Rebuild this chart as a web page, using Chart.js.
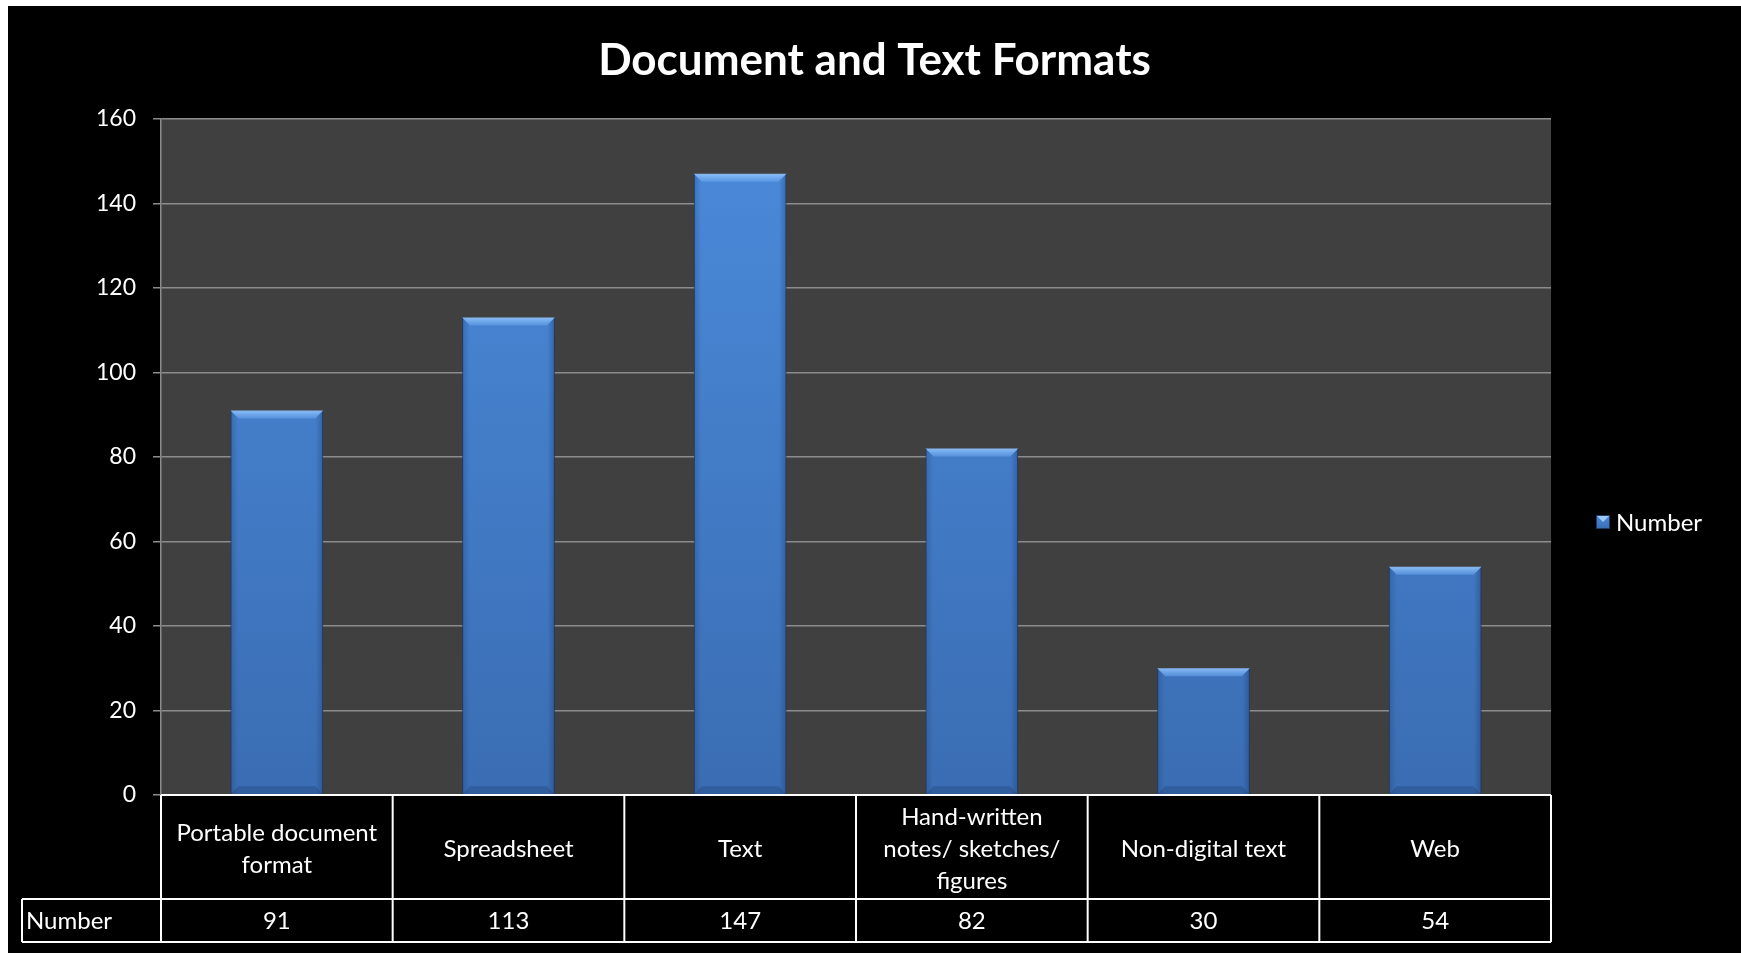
<!DOCTYPE html>
<html>
<head>
<meta charset="utf-8">
<title>Document and Text Formats</title>
<script src="https://cdn.jsdelivr.net/npm/chart.js@4.4.1/dist/chart.umd.min.js"></script>
<style>
  html, body { margin: 0; padding: 0; background: #fff; }
  #wrap { position: absolute; left: 8px; top: 6px; width: 1733px; height: 947px; background: #000; }
</style>
</head>
<body>
<div id="wrap"><canvas id="chart"></canvas></div>
<script>
// data
const categories = [
  ['Portable document', 'format'],
  'Spreadsheet',
  'Text',
  ['Hand-written', 'notes/ sketches/', 'figures'],
  'Non-digital text',
  'Web'
];
const numberValues = [91, 113, 147, 82, 30, 54];
const seriesName = 'Number';
const yMin = 0, yMax = 160, yStep = 20;

const FONT = 'Lato, "Open Sans", sans-serif';

function barGradient(context) {
  const chart = context.chart;
  const area = chart.chartArea;
  if (!area) return '#4279c6';
  const g = chart.ctx.createLinearGradient(0, area.top, 0, area.bottom);
  g.addColorStop(0, '#4b8bdb');
  g.addColorStop(1, '#3a6db3');
  return g;
}

// dark plot background
const plotBackground = {
  id: 'plotBackground',
  beforeDraw(chart) {
    const { ctx, chartArea: a } = chart;
    ctx.save();
    ctx.fillStyle = '#404040';
    ctx.fillRect(a.left, a.top, a.right - a.left, a.bottom - a.top);
    ctx.restore();
  }
};

// bevel look on each bar
const bevel = {
  id: 'bevel',
  afterDatasetsDraw(chart) {
    const ctx = chart.ctx;
    chart.getDatasetMeta(0).data.forEach(bar => {
      const l = bar.x - bar.width / 2, r = bar.x + bar.width / 2;
      const t = bar.y, b = bar.base;
      const d = 8;
      ctx.save();
      const sg = ctx.createLinearGradient(l, 0, r, 0);
      sg.addColorStop(0, 'rgba(20,45,90,0.25)');
      sg.addColorStop(0.08, 'rgba(20,45,90,0)');
      sg.addColorStop(0.92, 'rgba(20,45,90,0)');
      sg.addColorStop(1, 'rgba(20,45,90,0.35)');
      ctx.fillStyle = sg;
      ctx.fillRect(l, t, r - l, b - t);
      // top facet
      const tg = ctx.createLinearGradient(0, t, 0, t + d);
      tg.addColorStop(0, 'rgba(150,200,255,0.9)');
      tg.addColorStop(1, 'rgba(100,160,235,0.6)');
      ctx.beginPath();
      ctx.moveTo(l, t); ctx.lineTo(r, t); ctx.lineTo(r - d, t + d); ctx.lineTo(l + d, t + d); ctx.closePath();
      ctx.fillStyle = tg;
      ctx.fill();
      // bottom facet
      ctx.beginPath();
      ctx.moveTo(l, b); ctx.lineTo(r, b); ctx.lineTo(r - d, b - d); ctx.lineTo(l + d, b - d); ctx.closePath();
      ctx.fillStyle = 'rgba(25,55,110,0.3)';
      ctx.fill();
      ctx.restore();
    });
  }
};

// data table under the plot
const dataTable = {
  id: 'dataTable',
  afterDraw(chart) {
    const { ctx, chartArea: a } = chart;
    const xs = chart.scales.x;
    const n = chart.data.labels.length;
    const step = xs.getPixelForValue(1) - xs.getPixelForValue(0);
    const x0 = xs.getPixelForValue(0) - step / 2;
    const top = a.bottom, mid = top + 104, bot = mid + 43;
    const headLeft = 14;

    ctx.save();
    ctx.strokeStyle = '#fff';
    ctx.lineWidth = 2;
    ctx.beginPath();
    ctx.moveTo(a.left, top); ctx.lineTo(a.right, top);
    ctx.moveTo(headLeft, mid); ctx.lineTo(a.right, mid);
    ctx.moveTo(headLeft, bot); ctx.lineTo(a.right, bot);
    ctx.moveTo(headLeft, mid); ctx.lineTo(headLeft, bot);
    for (let i = 0; i <= n; i++) {
      const x = x0 + i * step;
      ctx.moveTo(x, top); ctx.lineTo(x, bot);
    }
    ctx.stroke();

    ctx.fillStyle = '#fff';
    ctx.font = '24px ' + FONT;
    ctx.textAlign = 'center';
    ctx.textBaseline = 'middle';
    const lh = 32;
    chart.data.labels.forEach((lab, i) => {
      const lines = Array.isArray(lab) ? lab : [lab];
      const cx = xs.getPixelForValue(i);
      const cy = (top + mid) / 2 + 2;
      lines.forEach((s, k) => {
        ctx.fillText(s, cx, cy + (k - (lines.length - 1) / 2) * lh);
      });
    });
    const ds = chart.data.datasets[0];
    ds.data.forEach((v, i) => {
      ctx.fillText(String(v), xs.getPixelForValue(i), (mid + bot) / 2 + 1);
    });
    ctx.textAlign = 'left';
    ctx.fillText(ds.label, headLeft + 4, (mid + bot) / 2 + 1);
    ctx.restore();
  }
};

// legend as a layout box on the right, so the title spans the whole width
const sideLegend = {
  id: 'sideLegend',
  beforeInit(chart) {
    const box = {
      position: 'right',
      weight: 100,
      fullSize: false,
      options: {},
      update(maxWidth, maxHeight) { this.width = 190; this.height = maxHeight; },
      isHorizontal() { return false; },
      draw() {
        const { ctx, chartArea: a } = chart;
        const ds = chart.data.datasets[0];
        const bx = a.right + 45, by = 509, s = 14;
        ctx.save();
        const g = ctx.createLinearGradient(0, by, 0, by + s);
        g.addColorStop(0, '#4b8bdb');
        g.addColorStop(1, '#3a6db3');
        ctx.fillStyle = g;
        ctx.fillRect(bx, by, s, s);
        ctx.beginPath();
        ctx.moveTo(bx, by); ctx.lineTo(bx + s, by); ctx.lineTo(bx + s / 2, by + s / 2); ctx.closePath();
        ctx.fillStyle = 'rgba(170,210,255,0.85)';
        ctx.fill();
        ctx.strokeStyle = '#1d3a66';
        ctx.lineWidth = 1;
        ctx.strokeRect(bx + 0.5, by + 0.5, s - 1, s - 1);
        ctx.fillStyle = '#fff';
        ctx.font = '24px ' + FONT;
        ctx.textBaseline = 'middle';
        ctx.fillText(ds.label, bx + s + 6, by + s / 2 + 1);
        ctx.restore();
      }
    };
    Chart.layouts.addBox(chart, box);
  }
};

new Chart(document.getElementById('chart'), {
  type: 'bar',
  data: {
    labels: categories,
    datasets: [{
      label: seriesName,
      data: numberValues,
      backgroundColor: barGradient,
      borderColor: '#223f70',
      borderWidth: 1,
      categoryPercentage: 1,
      barPercentage: 0.4
    }]
  },
  options: {
    responsive: true,
    maintainAspectRatio: false,
    animation: false,
    layout: { padding: { left: 0, right: 0, top: 0, bottom: 11 } },
    plugins: {
      legend: { display: false },
      tooltip: { enabled: false },
      title: {
        display: true,
        text: 'Document and Text Formats',
        color: '#fff',
        font: { family: FONT, size: 44, weight: 'bold' },
        padding: { top: 28, bottom: 32 }
      }
    },
    scales: {
      x: {
        grid: { display: false },
        border: { display: false },
        ticks: { display: false },
        afterFit: s => { s.height = 147; }
      },
      y: {
        min: yMin,
        max: yMax,
        ticks: { stepSize: yStep, color: '#fff', font: { family: FONT, size: 23 }, padding: 17 },
        grid: { color: '#8c8c8c', lineWidth: 1.5, tickLength: 8 },
        border: { color: '#8c8c8c', width: 1.5 },
        afterFit: s => { s.width = 153; }
      }
    }
  },
  plugins: [plotBackground, bevel, dataTable, sideLegend]
});
</script>
</body>
</html>
